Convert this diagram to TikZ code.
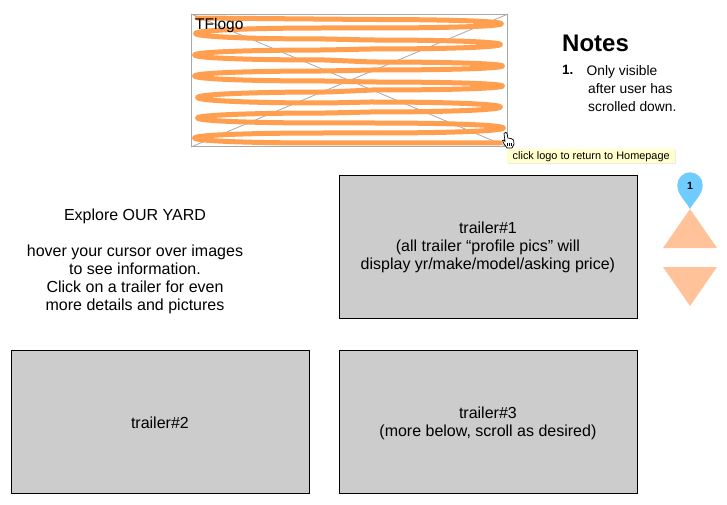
\documentclass[tikz,border=0pt]{standalone}
\usepackage{fontspec}
\setmainfont{Liberation Sans}
\definecolor{squig}{HTML}{FF9F4F}
\definecolor{logoline}{HTML}{A8A8A8}
\definecolor{boxgray}{HTML}{CCCCCC}
\definecolor{tipbg}{HTML}{FFFFCC}
\definecolor{pinblue}{HTML}{70CCFF}
\definecolor{triorange}{HTML}{FFC299}
\tikzset{
  trailer/.style={draw=black,line width=0.8pt,fill=boxgray,minimum width=298pt,minimum height=143pt,inner sep=0pt},
  trailertext/.style={inner sep=0pt,align=center,yshift=-1.3pt,font=\fontsize{16}{18}\selectfont},
  plain/.style={inner sep=0pt,align=center},
  tri/.style={fill=triorange,draw=none},
}
\newcommand{\rturn}[3]{.. controls (#1+43.3,#2) and (#1+43.3,#3) .. (#1-130,#3)}
\newcommand{\lturn}[3]{.. controls (#1-43.3,#2) and (#1-43.3,#3) .. (#1+130,#3)}
\begin{document}
\begin{tikzpicture}[x=1pt,y=-1pt]
\useasboundingbox (0,0) rectangle (727,505);
\fill[white] (0,0) rectangle (727,505);
% logo placeholder
\node[draw=logoline,line width=1pt,minimum width=316pt,minimum height=132pt,inner sep=0pt,anchor=north west] (logo) at (191,14) {};
\draw[logoline,line width=0.8pt] (logo.north west) -- (logo.south east);
\draw[logoline,line width=0.8pt] (logo.south west) -- (logo.north east);
\draw[squig,line width=5pt,line cap=round,line join=round]
  (197,18) -- (371.4,19.5) \rturn{501.4}{19.5}{28}
  -- (325.6,28) \lturn{195.6}{28}{39}
  -- (370.4,40) \rturn{500.4}{40}{49}
  -- (324.6,50) \lturn{194.6}{50}{60}
  -- (372.4,62) \rturn{502.4}{62}{70}
  -- (324.6,71) \lturn{194.6}{71}{81}
  -- (372.4,82) \rturn{502.4}{82}{90}
  -- (327.6,92) \lturn{197.6}{92}{103}
  -- (370.4,102) \rturn{500.4}{102}{112}
  -- (327.6,113) \lturn{197.6}{113}{123}
  -- (373.4,123) \rturn{503.4}{123}{133}
  -- (324.6,133) \lturn{194.6}{133}{143}
  -- (500,143);
\node[plain,anchor=base west,font=\fontsize{15.5}{18}\selectfont] (logotext) at (195,29.5) {TFlogo};
% notes
\node[plain,anchor=base west,font=\bfseries\fontsize{24}{28}\selectfont] (notes) at (562,52) {Notes};
\node[plain,anchor=base west,font=\bfseries\fontsize{13.5}{14}\selectfont] (num) at (562,75) {1.};
\node[plain,anchor=north west,align=left,font=\fontsize{13.8}{18}\selectfont] (notetext) at (586.5,65.5) {Only visible\\[0pt]\hspace*{1.5pt}after user has\\[0pt]\hspace*{1.5pt}scrolled down.};
% tooltip
\fill[black!8] (508,150) rectangle (676,164);
\node[fill=tipbg,minimum width=168pt,minimum height=14pt,inner sep=0pt,anchor=north west,font=\fontsize{10.9}{12}\selectfont] (tooltip) at (507,149) {\raisebox{-0.5pt}{click logo to return to Homepage}};
% cursor
\draw[black,fill=white,line width=0.7pt,line join=round]
  (504,133.5) .. controls (505,131.5) and (507,132) .. (507.2,134)
  -- (507.8,138) -- (511,138.5) -- (513.5,140) -- (514,144) -- (512,148) -- (507,148)
  -- (503.5,143) -- (502.5,140.5) .. controls (503,139.5) and (504.5,140) .. (505,141.5) -- cycle;
\draw[black,line width=0.5pt] (507.5,143) -- (507.5,146.5) (509.5,143) -- (509.5,146.5) (511.5,143) -- (511.5,146.5);
% explanatory text
\node[plain,font=\fontsize{16}{18}\selectfont] (intro) at (135,261) {Explore OUR YARD\\[0pt]\strut\\[0pt]hover your cursor over images\\to see information.\\Click on a trailer for even\\more details and pictures};
% trailers
\node[trailer,anchor=north west] (t1) at (338.5,174.5) {};
\node[trailertext] (t1text) at (t1.center) {trailer\#1\\(all trailer “profile pics” will\\display yr/make/model/asking price)};
\node[trailer,anchor=north west] (t2) at (10.5,350) {};
\node[trailertext] (t2text) at (t2.center) {trailer\#2};
\node[trailer,anchor=north west] (t3) at (338.5,350) {};
\node[trailertext] (t3text) at (t3.center) {trailer\#3\\(more below, scroll as desired)};
% scroll arrows
\path[tri] (690,209) -- (717,248) -- (663,248) -- cycle;
\path[tri] (663,267) -- (717,267) -- (690,306) -- cycle;
% pin
\fill[pinblue] (690,209) .. controls (686,201) and (677.3,195) .. (677.3,185) arc[start angle=180,end angle=360,radius=12.7] .. controls (702.7,195) and (694,201) .. (690,209) -- cycle;
\node[plain,font=\bfseries\fontsize{10.5}{12}\selectfont] (pinnum) at (690,185.5) {1};
\end{tikzpicture}
\end{document}
